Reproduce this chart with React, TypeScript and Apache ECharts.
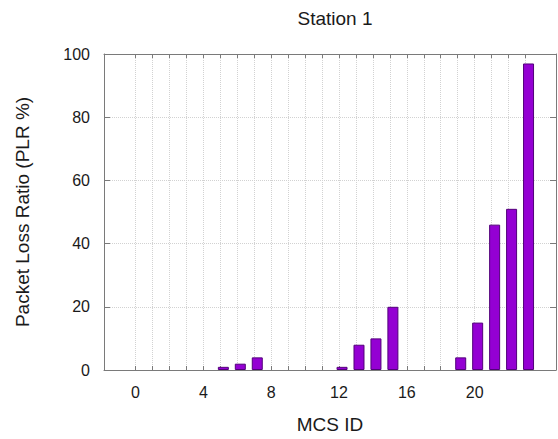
import React, { useEffect, useRef } from "react";
import * as echarts from "echarts";

const mcsIds = [0, 1, 2, 3, 4, 5, 6, 7, 8, 9, 10, 11, 12, 13, 14, 15, 16, 17, 18, 19, 20, 21, 22, 23];
const plrValues = [0, 0, 0, 0, 0, 1, 2, 4, 0, 0, 0, 0, 1, 8, 10, 20, 0, 0, 0, 4, 15, 46, 51, 97];
const xTickLabels = [0, 4, 8, 12, 16, 20];
const titleText = "Station 1";
const xName = "MCS ID";
const yName = "Packet Loss Ratio (PLR %)";

const FONT = "'Liberation Sans', Arial, sans-serif";
const X_MIN = -1.86;
const X_MAX = 24.8;
const BAR_SHIFT = 0.18;
const AXIS_COLOR = "#7a7a7a";
const GRID_COLOR = "#d2d2d2";
const TEXT_COLOR = "#1a1a1a";

export default function App() {
  const ref = useRef<HTMLDivElement>(null);
  useEffect(() => {
    if (!ref.current) return;
    const chart = echarts.init(ref.current, null, { renderer: "svg" });
    const barData = mcsIds.map((id, i) =>
      plrValues[i] === 0
        ? { value: [id, plrValues[i]], itemStyle: { borderWidth: 0 } }
        : { value: [id, plrValues[i]] }
    );
    chart.setOption({
      animation: false,
      backgroundColor: "#ffffff",
      title: {
        text: titleText,
        left: 330,
        top: 4,
        textAlign: "center",
        textStyle: { fontFamily: FONT, fontSize: 19, fontWeight: "normal", color: TEXT_COLOR },
      },
      grid: { left: 104, right: 2, top: 54, bottom: 66, containLabel: false },
      xAxis: [
        {
          type: "value",
          position: "bottom",
          min: X_MIN,
          max: X_MAX,
          name: xName,
          nameLocation: "middle",
          nameGap: 45,
          nameTextStyle: { fontFamily: FONT, fontSize: 19, color: TEXT_COLOR },
          axisLine: { show: true, onZero: false, lineStyle: { color: AXIS_COLOR, width: 1 } },
          axisTick: { show: true, inside: true, length: 4, customValues: mcsIds, lineStyle: { color: AXIS_COLOR } },
          axisLabel: {
            show: true,
            customValues: xTickLabels,
            margin: 14,
            fontFamily: FONT,
            fontSize: 16,
            color: TEXT_COLOR,
          },
          splitLine: { show: true, lineStyle: { color: GRID_COLOR, type: [1, 1], width: 1 } },
        },
        {
          type: "value",
          position: "top",
          min: X_MIN,
          max: X_MAX,
          axisLine: { show: true, onZero: false, lineStyle: { color: AXIS_COLOR, width: 1 } },
          axisTick: { show: true, inside: true, length: 4, customValues: mcsIds, lineStyle: { color: AXIS_COLOR } },
          axisLabel: { show: false },
          splitLine: { show: false },
        },
        {
          type: "value",
          show: false,
          min: X_MIN - BAR_SHIFT,
          max: X_MAX - BAR_SHIFT,
          splitLine: { show: false },
        },
      ],
      yAxis: [
        {
          type: "value",
          position: "left",
          min: 0,
          max: 100,
          interval: 20,
          name: yName,
          nameLocation: "middle",
          nameGap: 72,
          nameRotate: 90,
          nameTextStyle: { fontFamily: FONT, fontSize: 19, color: TEXT_COLOR },
          axisLine: { show: true, onZero: false, lineStyle: { color: AXIS_COLOR, width: 1 } },
          axisTick: { show: true, inside: true, length: 6, lineStyle: { color: AXIS_COLOR } },
          axisLabel: { show: true, margin: 14, fontFamily: FONT, fontSize: 16, color: TEXT_COLOR },
          splitLine: { show: true, lineStyle: { color: GRID_COLOR, type: [1, 1], width: 1 } },
        },
        {
          type: "value",
          position: "right",
          min: 0,
          max: 100,
          interval: 20,
          axisLine: { show: true, onZero: false, lineStyle: { color: AXIS_COLOR, width: 1 } },
          axisTick: { show: true, inside: true, length: 6, lineStyle: { color: AXIS_COLOR } },
          axisLabel: { show: false },
          splitLine: { show: false },
        },
      ],
      series: [
        {
          type: "bar",
          xAxisIndex: 2,
          yAxisIndex: 0,
          barWidth: 11,
          data: barData,
          itemStyle: { color: "#9400D3", borderColor: "#52007a", borderWidth: 1 },
        },
      ],
    });
    return () => chart.dispose();
  }, []);
  return (
    <div
      ref={ref}
      style={{ position: "fixed", left: 0, top: 0, width: 558, height: 439, background: "#fff" }}
    />
  );
}
